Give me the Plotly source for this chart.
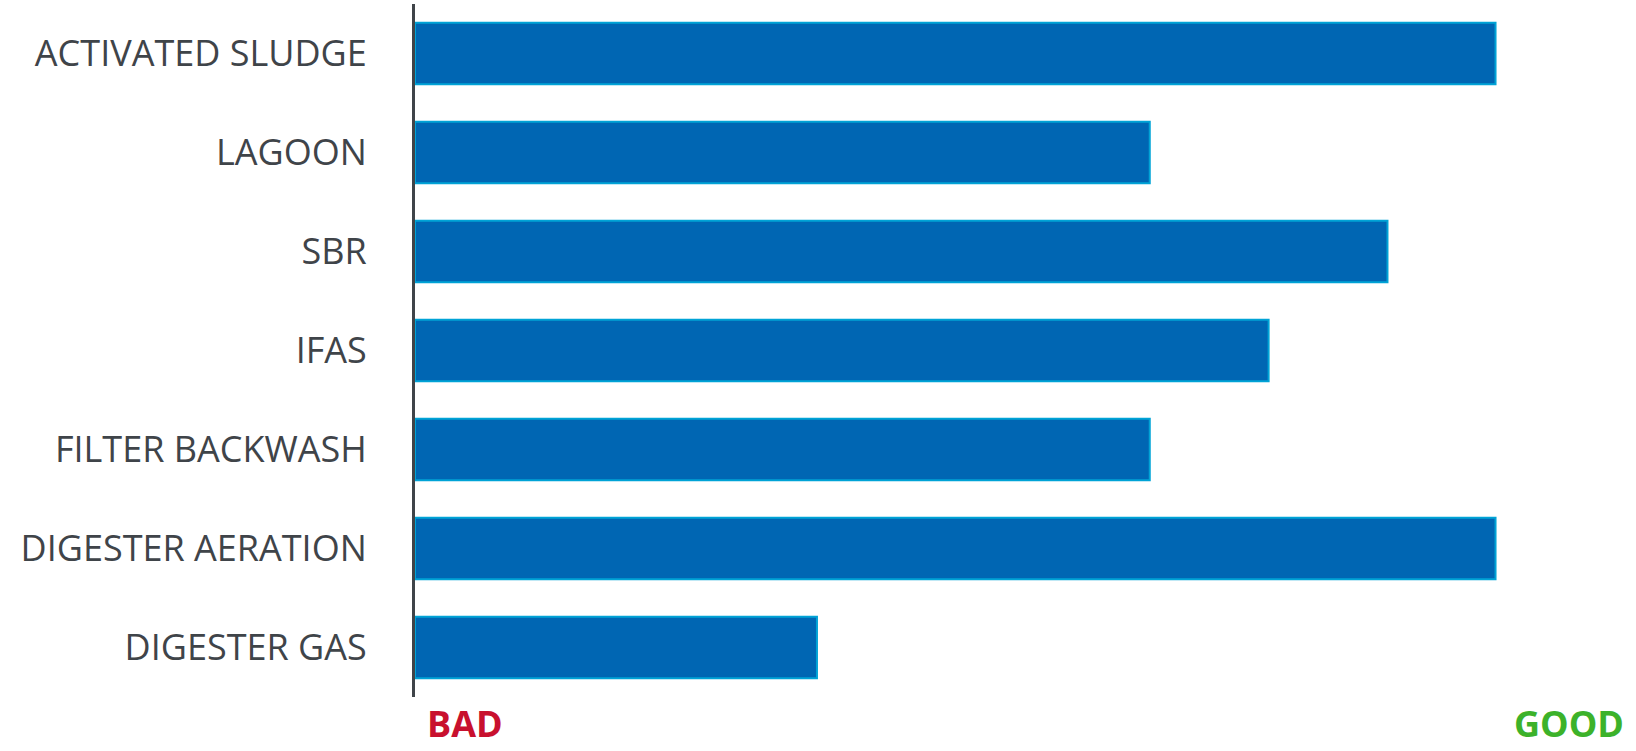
import plotly.graph_objects as go

processes = [
    "ACTIVATED SLUDGE",
    "LAGOON",
    "SBR",
    "IFAS",
    "FILTER BACKWASH",
    "DIGESTER AERATION",
    "DIGESTER GAS",
]
scores = [10.0, 6.8, 9.0, 7.9, 6.8, 10.0, 3.72]

fig = go.Figure(
    go.Bar(
        x=scores,
        y=processes,
        orientation="h",
        marker=dict(color="#0066b3", line=dict(color="#00a3d6", width=2)),
        width=0.62,
        hoverinfo="x+y",
    )
)

fig.update_layout(
    width=1636,
    height=751,
    margin=dict(l=415, r=0, t=4, b=54),
    paper_bgcolor="white",
    plot_bgcolor="white",
    showlegend=False,
    font=dict(family="Open Sans", color="#3f4449"),
    xaxis=dict(
        range=[0, 11.3],
        showgrid=False,
        zeroline=False,
        showticklabels=False,
        showline=False,
        fixedrange=True,
    ),
    yaxis=dict(
        autorange=False,
        range=[6.5, -0.5],
        showgrid=False,
        zeroline=False,
        showline=True,
        linecolor="#3f4449",
        linewidth=3,
        ticks="",
        ticklabelstandoff=38,
        tickfont=dict(family="Open Sans", size=36, color="#3f4449"),
        fixedrange=True,
    ),
    annotations=[
        dict(
            text="<b>BAD</b>",
            xref="paper", yref="paper",
            x=0.0082, y=-0.0765,
            xanchor="left", yanchor="bottom",
            showarrow=False,
            font=dict(family="Open Sans", size=36, color="#c8102e"),
        ),
        dict(
            text="<b>GOOD</b>",
            xref="paper", yref="paper",
            x=0.9918, y=-0.0765,
            xanchor="right", yanchor="bottom",
            showarrow=False,
            font=dict(family="Open Sans", size=36, color="#3cb22a"),
        ),
    ],
)

fig.write_html("out.html")
